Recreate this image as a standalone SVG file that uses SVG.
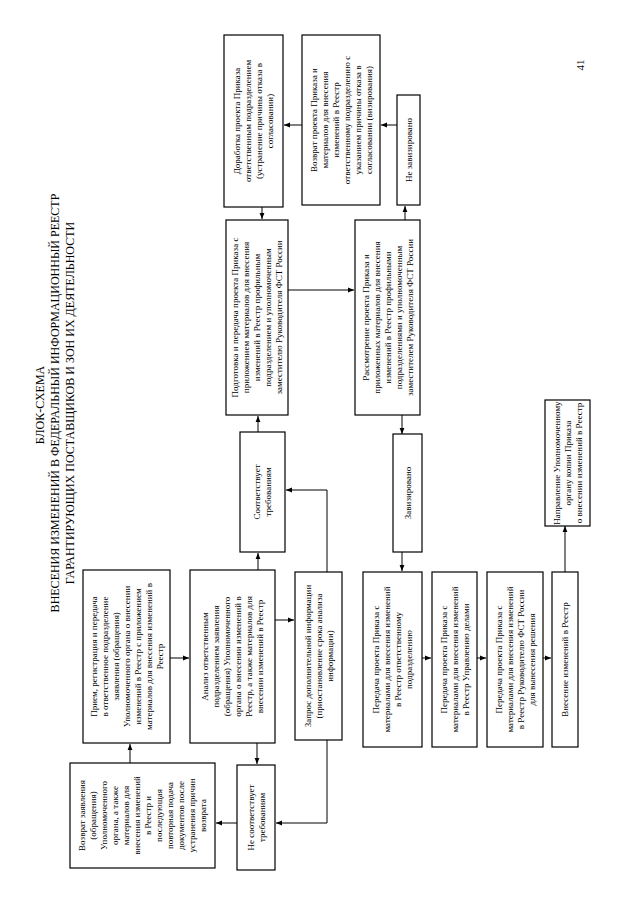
<svg xmlns="http://www.w3.org/2000/svg" width="640" height="905" viewBox="0 0 640 905">
<style>
text{font-family:"Liberation Serif","Times New Roman",serif;font-size:9px;text-anchor:middle;fill:#000}
.t{font-size:12px}
.pg{font-size:11px}
rect{fill:#fff;stroke:#000;stroke-width:1.2}
#connectors path{fill:none;stroke:#000;stroke-width:1;marker-end:url(#ah)}
</style>
<defs>
<marker id="ah" viewBox="0 0 10 10" refX="10" refY="5" markerWidth="6" markerHeight="6" orient="auto" markerUnits="userSpaceOnUse"><path d="M0,1 L10,5 L0,9 z" fill="#000"/></marker>
</defs>
<rect x="0" y="0" width="640" height="905" style="fill:#fff;stroke:none"/>
<g id="title">
<text class="t" transform="translate(44,405) rotate(-90)">БЛОК-СХЕМА</text>
<text class="t" transform="translate(59,403) rotate(-90)">ВНЕСЕНИЯ ИЗМЕНЕНИЙ В ФЕДЕРАЛЬНЫЙ ИНФОРМАЦИОННЫЙ РЕЕСТР</text>
<text class="t" transform="translate(74,403) rotate(-90)">ГАРАНТИРУЮЩИХ ПОСТАВЩИКОВ И ЗОН ИХ ДЕЯТЕЛЬНОСТИ</text>
<text class="pg" transform="translate(584,65) rotate(-90)">41</text>
</g>
<g id="connectors">
<path d="M130,763 L130,744"/>
<path d="M170,658 L189,658"/>
<path d="M258,570 L258,553"/>
<path d="M257,743 L257,764"/>
<path d="M275,620 L294,620"/>
<path d="M327,572 L327,490 L286,490"/>
<path d="M327,740 L327,823 L276,823"/>
<path d="M237,823 L216,823"/>
<path d="M258,432 L258,416"/>
<path d="M262,207 L262,219"/>
<path d="M288,290 L354,290"/>
<path d="M405,220 L405,206"/>
<path d="M397,125 L381,125"/>
<path d="M302,125 L284,125"/>
<path d="M402,415 L402,434"/>
<path d="M402,552 L402,571"/>
<path d="M422,658 L431,658"/>
<path d="M477,658 L486,658"/>
<path d="M543,658 L551,658"/>
<path d="M565,572 L565,526"/>
</g>
<g id="n-priem"><rect x="83" y="570" width="87" height="173"/>
<text transform="translate(126.5,656.5) rotate(-90)"><tspan x="0" y="-29.8">Прием, регистрация и передача</tspan><tspan x="0" y="-18.8">в ответственное подразделение</tspan><tspan x="0" y="-7.8">заявления (обращения)</tspan><tspan x="0" y="3.2">Уполномоченного органа о внесении</tspan><tspan x="0" y="14.2">изменений в Реестр с приложением</tspan><tspan x="0" y="25.2">материалов для внесения изменений в</tspan><tspan x="0" y="36.2">Реестр</tspan></text></g>
<g id="n-vozvrat-zayav"><rect x="70" y="763" width="145" height="105"/>
<text transform="translate(142.5,815.5) rotate(-90)"><tspan x="0" y="-57.3">Возврат заявления</tspan><tspan x="0" y="-46.3">(обращения)</tspan><tspan x="0" y="-35.3">Уполномоченного</tspan><tspan x="0" y="-24.3">органа,  а также</tspan><tspan x="0" y="-13.3">материалов для</tspan><tspan x="0" y="-2.3">внесения изменений</tspan><tspan x="0" y="8.7">в Реестр и</tspan><tspan x="0" y="19.7">последующая</tspan><tspan x="0" y="30.7">повторная подача</tspan><tspan x="0" y="41.7">документов после</tspan><tspan x="0" y="52.7">устранения причин</tspan><tspan x="0" y="63.7">возврата</tspan></text></g>
<g id="n-analiz"><rect x="190" y="570" width="85" height="173"/>
<text transform="translate(232.5,656.5) rotate(-90)"><tspan x="0" y="-24.3">Анализ ответственным</tspan><tspan x="0" y="-13.3">подразделением заявления</tspan><tspan x="0" y="-2.3">(обращения) Уполномоченного</tspan><tspan x="0" y="8.7">органа о внесении изменений в</tspan><tspan x="0" y="19.7">Реестр, а также материалов для</tspan><tspan x="0" y="30.7">внесении изменений в Реестр</tspan></text></g>
<g id="n-ne-sootv"><rect x="237" y="765" width="38" height="105"/>
<text transform="translate(256,817.5) rotate(-90)"><tspan x="0" y="-2.3">Не соответствует</tspan><tspan x="0" y="8.7">требованиям</tspan></text></g>
<g id="n-zapros"><rect x="295" y="572" width="47" height="168"/>
<text transform="translate(318.5,656) rotate(-90)"><tspan x="0" y="-7.8">Запрос дополнительной информации</tspan><tspan x="0" y="3.2">(приостановление срока анализа</tspan><tspan x="0" y="14.2">информации)</tspan></text></g>
<g id="n-sootv"><rect x="240" y="432" width="45" height="120"/>
<text transform="translate(262.5,492) rotate(-90)"><tspan x="0" y="-2.3">Соответствует</tspan><tspan x="0" y="8.7">требованиям</tspan></text></g>
<g id="n-podgotovka"><rect x="226" y="220" width="62" height="195"/>
<text transform="translate(257,317.5) rotate(-90)"><tspan x="0" y="-18.8">Подготовка и передача проекта Приказа с</tspan><tspan x="0" y="-7.8">приложением материалов для внесения</tspan><tspan x="0" y="3.2">изменений в Реестр профильным</tspan><tspan x="0" y="14.2">подразделением и уполномоченным</tspan><tspan x="0" y="25.2">заместителю Руководителя ФСТ России</tspan></text></g>
<g id="n-dorabotka"><rect x="224" y="35" width="59" height="172"/>
<text transform="translate(253.5,121) rotate(-90)"><tspan x="0" y="-13.3">Доработка проекта Приказа</tspan><tspan x="0" y="-2.3">ответственным подразделением</tspan><tspan x="0" y="8.7">(устранение причины отказа в</tspan><tspan x="0" y="19.7">согласовании)</tspan></text></g>
<g id="n-vozvrat-proekta"><rect x="302" y="35" width="78" height="170"/>
<text transform="translate(341,120) rotate(-90)"><tspan x="0" y="-24.3">Возврат проекта Приказа и</tspan><tspan x="0" y="-13.3">материалов для внесения</tspan><tspan x="0" y="-2.3">изменений в Реестр</tspan><tspan x="0" y="8.7">ответственному подразделению с</tspan><tspan x="0" y="19.7">указанием причины отказа в</tspan><tspan x="0" y="30.7">согласовании (визирования)</tspan></text></g>
<g id="n-ne-zaviz"><rect x="397" y="95" width="23" height="110"/>
<text transform="translate(408.5,150) rotate(-90)"><tspan x="0" y="3.2">Не завизировано</tspan></text></g>
<g id="n-rassmotrenie"><rect x="355" y="220" width="65" height="195"/>
<text transform="translate(387.5,317.5) rotate(-90)"><tspan x="0" y="-18.8">Рассмотрение проекта Приказа и</tspan><tspan x="0" y="-7.8">приложенных материалов для внесения</tspan><tspan x="0" y="3.2">изменений в Реестр профильными</tspan><tspan x="0" y="14.2">подразделениями и уполномоченным</tspan><tspan x="0" y="25.2">заместителем Руководителя ФСТ России</tspan></text></g>
<g id="n-zaviz"><rect x="393" y="434" width="29" height="118"/>
<text transform="translate(407.5,493) rotate(-90)"><tspan x="0" y="3.2">Завизировано</tspan></text></g>
<g id="n-peredacha1"><rect x="363" y="572" width="59" height="175"/>
<text transform="translate(392.5,659.5) rotate(-90)"><tspan x="0" y="-13.3">Передача проекта Приказа с</tspan><tspan x="0" y="-2.3">материалами для внесения изменений</tspan><tspan x="0" y="8.7">в Реестр ответственному</tspan><tspan x="0" y="19.7">подразделению</tspan></text></g>
<g id="n-peredacha2"><rect x="432" y="572" width="45" height="175"/>
<text transform="translate(454.5,659.5) rotate(-90)"><tspan x="0" y="-7.8">Передача проекта Приказа с</tspan><tspan x="0" y="3.2">материалами для внесения изменений</tspan><tspan x="0" y="14.2">в Реестр Управлению делами</tspan></text></g>
<g id="n-peredacha3"><rect x="487" y="572" width="56" height="175"/>
<text transform="translate(515,659.5) rotate(-90)"><tspan x="0" y="-13.3">Передача проекта Приказа с</tspan><tspan x="0" y="-2.3">материалами для внесения изменений</tspan><tspan x="0" y="8.7">в Реестр Руководителю ФСТ России</tspan><tspan x="0" y="19.7">для вынесения решения</tspan></text></g>
<g id="n-vnesenie"><rect x="552" y="572" width="26" height="175"/>
<text transform="translate(565,659.5) rotate(-90)"><tspan x="0" y="3.2">Внесение изменений в Реестр</tspan></text></g>
<g id="n-napravlenie"><rect x="545" y="400" width="45" height="126"/>
<text transform="translate(567.5,463) rotate(-90)"><tspan x="0" y="-7.8">Направление Уполномоченному</tspan><tspan x="0" y="3.2">органу копии Приказа</tspan><tspan x="0" y="14.2">о внесении изменений в Реестр</tspan></text></g>
</svg>
